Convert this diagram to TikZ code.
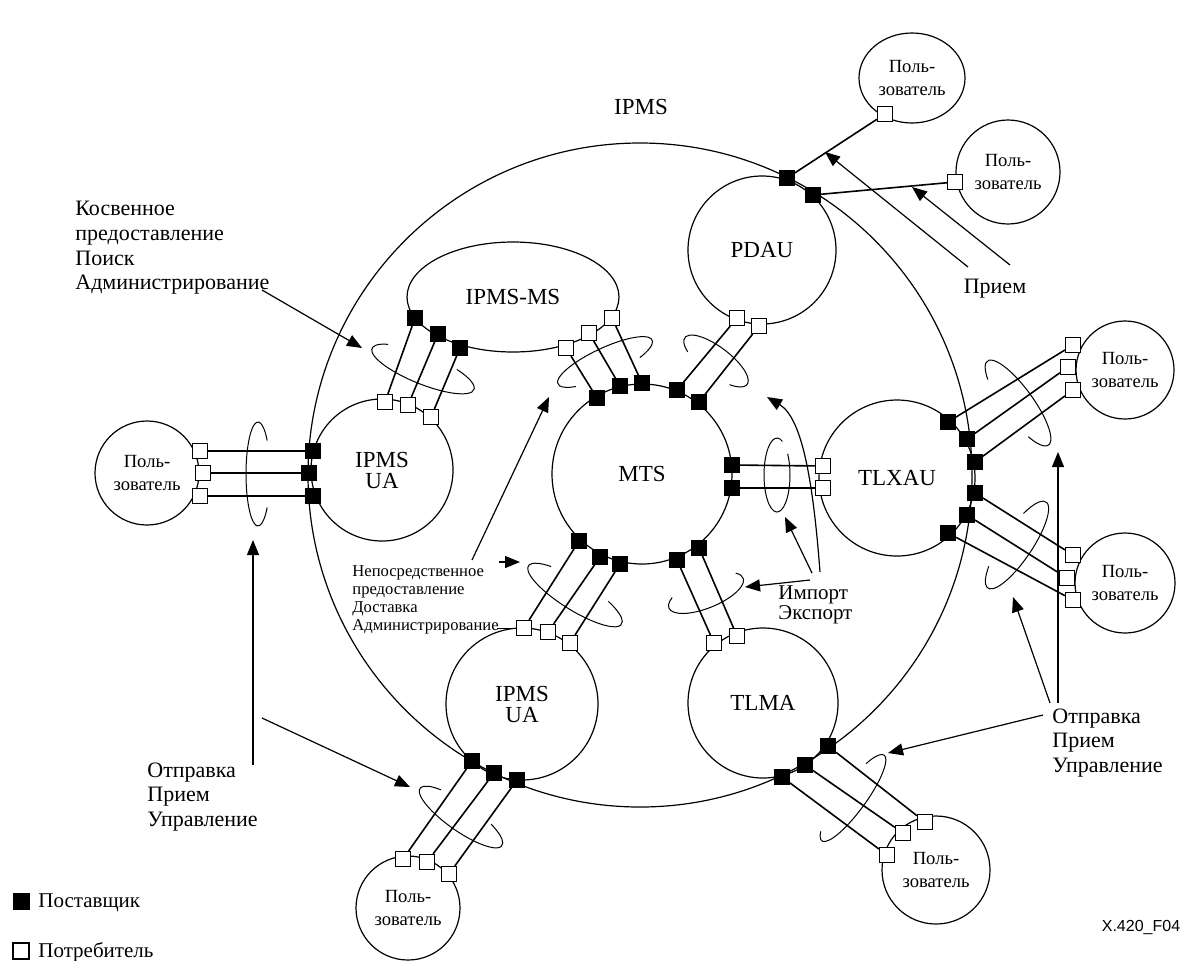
\documentclass[tikz,border=0pt]{standalone}
\usepackage{fontspec}
\setmainfont{Liberation Serif}
\newfontfamily\tagfont{Liberation Sans}
\usetikzlibrary{arrows.meta,shapes.geometric}

\begin{document}
\begin{tikzpicture}[x=0.5pt,y=0.5pt]
\tikzstyle{every node}+=[inner sep=0pt]
\tikzstyle{unit}=[draw,circle,line width=0.6pt,align=center,font=\fontsize{11.5}{10.5}\selectfont]
\tikzstyle{user}=[draw,circle,line width=0.6pt,align=center,font=\fontsize{9.3}{11.5}\selectfont]
\tikzstyle{supp}=[draw,fill=black,minimum size=7.5pt,line width=0.4pt]
\tikzstyle{cons}=[draw,fill=white,minimum size=7.5pt,line width=0.6pt]
\tikzstyle{conn}=[line width=0.8pt]
\tikzstyle{ring}=[line width=0.5pt]
\tikzstyle{pointer}=[line width=0.6pt,-{Triangle[length=7.5pt,width=6pt]}]
\tikzstyle{note}=[align=left,anchor=west,font=\fontsize{11}{12.3}\selectfont]
\useasboundingbox (0,0) rectangle (1182,-960);
\node[unit,minimum size=332pt] (ipms) at (640,-475) {};
\node[font=\fontsize{11.5}{12}\selectfont] (ipmslbl) at (641,-107) {IPMS};
\node[unit,minimum size=90pt] (mts) at (642,-474) {MTS};
\node[unit,ellipse,minimum width=106pt,minimum height=55pt] (ipmsms) at (513,-297) {IPMS-MS};
\node[unit,minimum size=74pt] (pdau) at (762,-250) {PDAU};
\node[unit,minimum size=78pt] (tlxau) at (897,-478) {TLXAU};
\node[unit,minimum size=75pt] (tlma) at (763,-703) {TLMA};
\node[unit,minimum size=76pt] (uab) at (522,-704) {IPMS\\UA};
\node[unit,minimum size=71pt] (ual) at (382,-470) {IPMS\\UA};
\node[user,minimum size=52pt] (usl) at (147,-473) {Поль-\\зователь};
\node[user,ellipse,minimum width=53pt,minimum height=45pt] (ust1) at (912,-78) {Поль-\\зователь};
\node[user,minimum size=52pt] (ust2) at (1008,-172) {Поль-\\зователь};
\node[user,minimum size=49pt] (usr1) at (1125,-370) {Поль-\\зователь};
\node[user,minimum size=50pt] (usr2) at (1125,-583) {Поль-\\зователь};
\node[user,minimum size=54pt] (usbr) at (936,-870) {Поль-\\зователь};
\node[user,minimum size=52pt] (usb) at (408,-908) {Поль-\\зователь};
\node[cons] (usl-1) at (200,-451) {};
\node[cons] (usl-2) at (203,-473) {};
\node[cons] (usl-3) at (200,-496) {};
\node[supp] (ual-l1) at (313,-451) {};
\node[supp] (ual-l2) at (309,-473) {};
\node[supp] (ual-l3) at (313,-496) {};
\node[cons] (ual-t1) at (385,-402) {};
\node[cons] (ual-t2) at (408,-405) {};
\node[cons] (ual-t3) at (431,-417) {};
\node[supp] (ms-l1) at (415,-318) {};
\node[supp] (ms-l2) at (438,-334) {};
\node[supp] (ms-l3) at (460,-348) {};
\node[cons] (ms-r1) at (566,-348) {};
\node[cons] (ms-r2) at (589,-333) {};
\node[cons] (ms-r3) at (612,-318) {};
\node[supp] (mts-t1) at (597,-398) {};
\node[supp] (mts-t2) at (620,-386) {};
\node[supp] (mts-t3) at (642,-383) {};
\node[supp] (mts-t4) at (677,-390) {};
\node[supp] (mts-t5) at (699,-402) {};
\node[cons] (pdau-b1) at (737,-318) {};
\node[cons] (pdau-b2) at (759,-326) {};
\node[supp] (pdau-t1) at (787,-178) {};
\node[supp] (pdau-t2) at (813,-195) {};
\node[cons] (ust1-1) at (885,-114) {};
\node[cons] (ust2-1) at (955,-182) {};
\node[supp] (mts-r1) at (732,-465) {};
\node[supp] (mts-r2) at (732,-488) {};
\node[cons] (tlx-l1) at (823,-466) {};
\node[cons] (tlx-l2) at (823,-488) {};
\node[supp] (tlx-r1) at (948,-422) {};
\node[supp] (tlx-r2) at (967,-439) {};
\node[supp] (tlx-r3) at (975,-462) {};
\node[supp] (tlx-r4) at (975,-493) {};
\node[supp] (tlx-r5) at (967,-515) {};
\node[supp] (tlx-r6) at (948,-533) {};
\node[cons] (usr1-1) at (1073,-345) {};
\node[cons] (usr1-2) at (1068,-367) {};
\node[cons] (usr1-3) at (1073,-390) {};
\node[cons] (usr2-1) at (1073,-555) {};
\node[cons] (usr2-2) at (1067,-578) {};
\node[cons] (usr2-3) at (1073,-600) {};
\node[supp] (mts-b1) at (579,-541) {};
\node[supp] (mts-b2) at (600,-557) {};
\node[supp] (mts-b3) at (620,-564) {};
\node[supp] (mts-b4) at (677,-560) {};
\node[supp] (mts-b5) at (699,-548) {};
\node[cons] (uab-t1) at (524,-628) {};
\node[cons] (uab-t2) at (548,-632) {};
\node[cons] (uab-t3) at (570,-643) {};
\node[cons] (tlma-t1) at (714,-643) {};
\node[cons] (tlma-t2) at (737,-636) {};
\node[supp] (tlma-b1) at (782,-777) {};
\node[supp] (tlma-b2) at (805,-765) {};
\node[supp] (tlma-b3) at (828,-746) {};
\node[cons] (usbr-1) at (887,-855) {};
\node[cons] (usbr-2) at (903,-833) {};
\node[cons] (usbr-3) at (925,-822) {};
\node[supp] (uab-b1) at (472,-761) {};
\node[supp] (uab-b2) at (494,-773) {};
\node[supp] (uab-b3) at (517,-780) {};
\node[cons] (usb-1) at (403,-859) {};
\node[cons] (usb-2) at (427,-862) {};
\node[cons] (usb-3) at (449,-874) {};
\draw[conn] (usl-1) -- (ual-l1);
\draw[conn] (usl-2) -- (ual-l2);
\draw[conn] (usl-3) -- (ual-l3);
\draw[conn] (ual-t1) -- (ms-l1);
\draw[conn] (ual-t2) -- (ms-l2);
\draw[conn] (ual-t3) -- (ms-l3);
\draw[conn] (ms-r1) -- (mts-t1);
\draw[conn] (ms-r2) -- (mts-t2);
\draw[conn] (ms-r3) -- (mts-t3);
\draw[conn] (mts-t4) -- (pdau-b1);
\draw[conn] (mts-t5) -- (pdau-b2);
\draw[conn] (pdau-t1) -- (ust1-1);
\draw[conn] (pdau-t2) -- (ust2-1);
\draw[conn] (mts-r1) -- (tlx-l1);
\draw[conn] (mts-r2) -- (tlx-l2);
\draw[conn] (tlx-r1) -- (usr1-1);
\draw[conn] (tlx-r2) -- (usr1-2);
\draw[conn] (tlx-r3) -- (usr1-3);
\draw[conn] (tlx-r4) -- (usr2-1);
\draw[conn] (tlx-r5) -- (usr2-2);
\draw[conn] (tlx-r6) -- (usr2-3);
\draw[conn] (mts-b1) -- (uab-t1);
\draw[conn] (mts-b2) -- (uab-t2);
\draw[conn] (mts-b3) -- (uab-t3);
\draw[conn] (mts-b4) -- (tlma-t1);
\draw[conn] (mts-b5) -- (tlma-t2);
\draw[conn] (tlma-b1) -- (usbr-1);
\draw[conn] (tlma-b2) -- (usbr-2);
\draw[conn] (tlma-b3) -- (usbr-3);
\draw[conn] (uab-b1) -- (usb-1);
\draw[conn] (uab-b2) -- (usb-2);
\draw[conn] (uab-b3) -- (usb-3);
\draw[ring,shift={(258,-474)}] (40:12 and 52) arc (40:320:12 and 52);
\draw[ring,shift={(423,-369)},rotate=-22] (139:55 and 15) arc (139:415:55 and 15);
\draw[ring,shift={(605,-362)},rotate=25] (-50:52 and 14) arc (-50:225:52 and 14);
\draw[ring,shift={(716,-361)},rotate=-37] (-50:39 and 14) arc (-50:224:39 and 14);
\draw[ring,shift={(777,-475)}] (65:13 and 37) arc (65:395:13 and 37);
\draw[ring,shift={(706,-593)},rotate=22] (146:40 and 15) arc (146:389:40 and 15);
\draw[ring,shift={(575,-595)},rotate=-32] (130:55 and 15) arc (130:415:55 and 15);
\draw[ring,shift={(461,-817)},rotate=-35] (130:50 and 14) arc (130:415:50 and 14);
\draw[ring,shift={(853,-798)},rotate=54] (150:53 and 13) arc (150:408:53 and 13);
\draw[ring,shift={(1018,-403)},rotate=-54] (-50:52 and 15) arc (-50:225:52 and 15);
\draw[ring,shift={(1017,-545)},rotate=56] (130:52 and 15) arc (130:415:52 and 15);
\node[note] (kos) at (75,-248) {Косвенное\\предоставление\\Поиск\\Администрирование};
\node[note,font=\fontsize{8.3}{9}\selectfont] (nep) at (352,-600) {Непосредственное\\предоставление\\Доставка\\Администрирование};
\node[note,font=\fontsize{10.5}{10}\selectfont] (imp) at (778,-605) {Импорт\\Экспорт};
\node[font=\fontsize{11}{12}\selectfont] (pri) at (995,-289) {Прием};
\node[note] (otrr) at (1052,-743) {Отправка\\Прием\\Управление};
\node[note] (otrl) at (147,-797) {Отправка\\Прием\\Управление};
\coordinate (kos-t) at (262,-290);
\coordinate (kos-h) at (362,-348);
\coordinate (nep-t) at (472,-560);
\coordinate (nep-h) at (549,-397);
\coordinate (nep2-t) at (499,-562);
\coordinate (nep2-h) at (520,-562);
\coordinate (nep3-t) at (497,-628);
\coordinate (imp1-t) at (820,-572);
\coordinate (imp1-h) at (767,-397);
\coordinate (imp2-t) at (812,-573);
\coordinate (imp2-h) at (785,-517);
\coordinate (imp3-t) at (810,-580);
\coordinate (imp3-h) at (745,-587);
\coordinate (pri1-t) at (968,-267);
\coordinate (pri1-h) at (825,-152);
\coordinate (pri2-t) at (1010,-265);
\coordinate (pri2-h) at (912,-187);
\coordinate (otrr1-t) at (1043,-715);
\coordinate (otrr1-h) at (888,-753);
\coordinate (otrr2-t) at (1050,-703);
\coordinate (otrr2-h) at (1013,-597);
\coordinate (otrr3-t) at (1058,-703);
\coordinate (otrr3-h) at (1058,-452);
\coordinate (otrl1-t) at (253,-765);
\coordinate (otrl1-h) at (253,-540);
\coordinate (otrl2-t) at (262,-718);
\coordinate (otrl2-h) at (410,-787);
\draw[pointer] (kos-t) -- (kos-h);
\draw[pointer] (nep-t) -- (nep-h);
\draw[pointer] (nep2-t) -- (nep2-h);
\draw[ring] (nep3-t) -- (uab-t1);
\draw[pointer] (imp1-t) .. controls (813,-480) and (802,-418) .. (imp1-h);
\draw[pointer] (imp2-t) -- (imp2-h);
\draw[pointer] (imp3-t) -- (imp3-h);
\draw[pointer] (pri1-t) -- (pri1-h);
\draw[pointer] (pri2-t) -- (pri2-h);
\draw[pointer] (otrr1-t) -- (otrr1-h);
\draw[pointer] (otrr2-t) -- (otrr2-h);
\draw[pointer] (otrr3-t) -- (otrr3-h);
\draw[pointer] (otrl1-t) -- (otrl1-h);
\draw[pointer] (otrl2-t) -- (otrl2-h);
\node[supp,minimum size=8pt] (lg-s) at (21,-901) {};
\node[anchor=west,font=\fontsize{10.5}{12}\selectfont] (lg-st) at (38,-903) {Поставщик};
\node[cons,minimum size=8pt] (lg-c) at (21,-951) {};
\node[anchor=west,font=\fontsize{10.5}{12}\selectfont] (lg-ct) at (38,-952) {Потребитель};
\node[font=\tagfont\fontsize{8}{9}\selectfont] (fig) at (1141,-927) {X.420\_F04};
\end{tikzpicture}
\end{document}
